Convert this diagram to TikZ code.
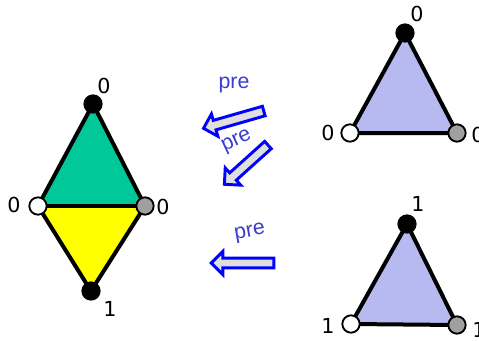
\documentclass[tikz,border=0pt]{standalone}
\usepackage{fontspec}
\setmainfont{DejaVu Sans}
\newfontfamily\prefont{Liberation Sans}
\usetikzlibrary{shapes.arrows}
\definecolor{upgreen}{RGB}{0,200,152}
\definecolor{lowyellow}{RGB}{255,255,0}
\definecolor{trilav}{RGB}{182,186,240}
\definecolor{vgray}{RGB}{160,160,160}
\definecolor{pretxt}{RGB}{60,60,205}
\tikzset{
  vert/.style={circle,draw=black,line width=1.4pt,minimum size=13pt,inner sep=0pt},
  blackv/.style={vert,fill=black},
  whitev/.style={vert,fill=white},
  grayv/.style={vert,fill=vgray},
  edge/.style={line width=3pt,line join=round},
  num/.style={font=\fontsize{15.5}{15.5}\selectfont},
  prearrow/.style={single arrow,draw=blue,fill=gray!25,line width=2.2pt,
    inner sep=2.6pt,single arrow head extend=5pt},
  pre/.style={text=pretxt,font=\prefont\fontsize{16}{16}\selectfont}
}
\begin{document}
\begin{tikzpicture}[x=0.75pt,y=-0.75pt]
  \useasboundingbox (0,0) rectangle (479,340);
  \clip (0,0) rectangle (479,340);
  % diamond
  \coordinate (dt) at (93,104);
  \coordinate (dl) at (38,206);
  \coordinate (dr) at (145,206);
  \coordinate (db) at (91,291);
  \fill[upgreen] (dt) -- (dl) -- (dr) -- cycle;
  \fill[lowyellow] (db) -- (dl) -- (dr) -- cycle;
  \draw[edge] (dt) -- (dl) -- (db) -- (dr) -- cycle;
  \draw[edge] (dl) -- (dr);
  \node[blackv] (vdt) at (dt) {};
  \node[whitev] (vdl) at (dl) {};
  \node[grayv] (vdr) at (dr) {};
  \node[blackv] (vdb) at (db) {};
  \node[num] at (104,86) {0};
  \node[num] at (14,205) {0};
  \node[num] at (163,207) {0};
  \node[num] at (110,309) {1};
  % upper triangle
  \coordinate (at) at (405,33);
  \coordinate (al) at (350,133);
  \coordinate (ar) at (457,133);
  \fill[trilav] (at) -- (al) -- (ar) -- cycle;
  \draw[edge] (at) -- (al) -- (ar) -- cycle;
  \node[blackv] (vat) at (at) {};
  \node[whitev] (val) at (al) {};
  \node[grayv] (var) at (ar) {};
  \node[num] at (417,14) {0};
  \node[num] at (328,133) {0};
  \node[num] at (478,135) {0};
  % lower triangle
  \coordinate (bt) at (407,224);
  \coordinate (bl) at (351,324);
  \coordinate (br) at (457,325);
  \fill[trilav] (bt) -- (bl) -- (br) -- cycle;
  \draw[edge] (bt) -- (bl) -- (br) -- cycle;
  \node[blackv] (vbt) at (bt) {};
  \node[whitev] (vbl) at (bl) {};
  \node[grayv] (vbr) at (br) {};
  \node[num] at (418,204) {1};
  \node[num] at (328,326) {1};
  \node[num] at (479,330) {1};
  % pre arrows
  \node[prearrow,minimum height=47pt,rotate=196] (pa) at (236,119) {};
  \node[pre] (pla) at (234,85) {pre};
  \node[prearrow,minimum height=44pt,rotate=222] (pb) at (248,163) {};
  \node[pre,rotate=25] (plb) at (237,142) {pre};
  \node[prearrow,minimum height=47pt,rotate=180] (pc) at (245,263) {};
  \node[pre,rotate=10] (plc) at (250,233) {pre};
\end{tikzpicture}
\end{document}
